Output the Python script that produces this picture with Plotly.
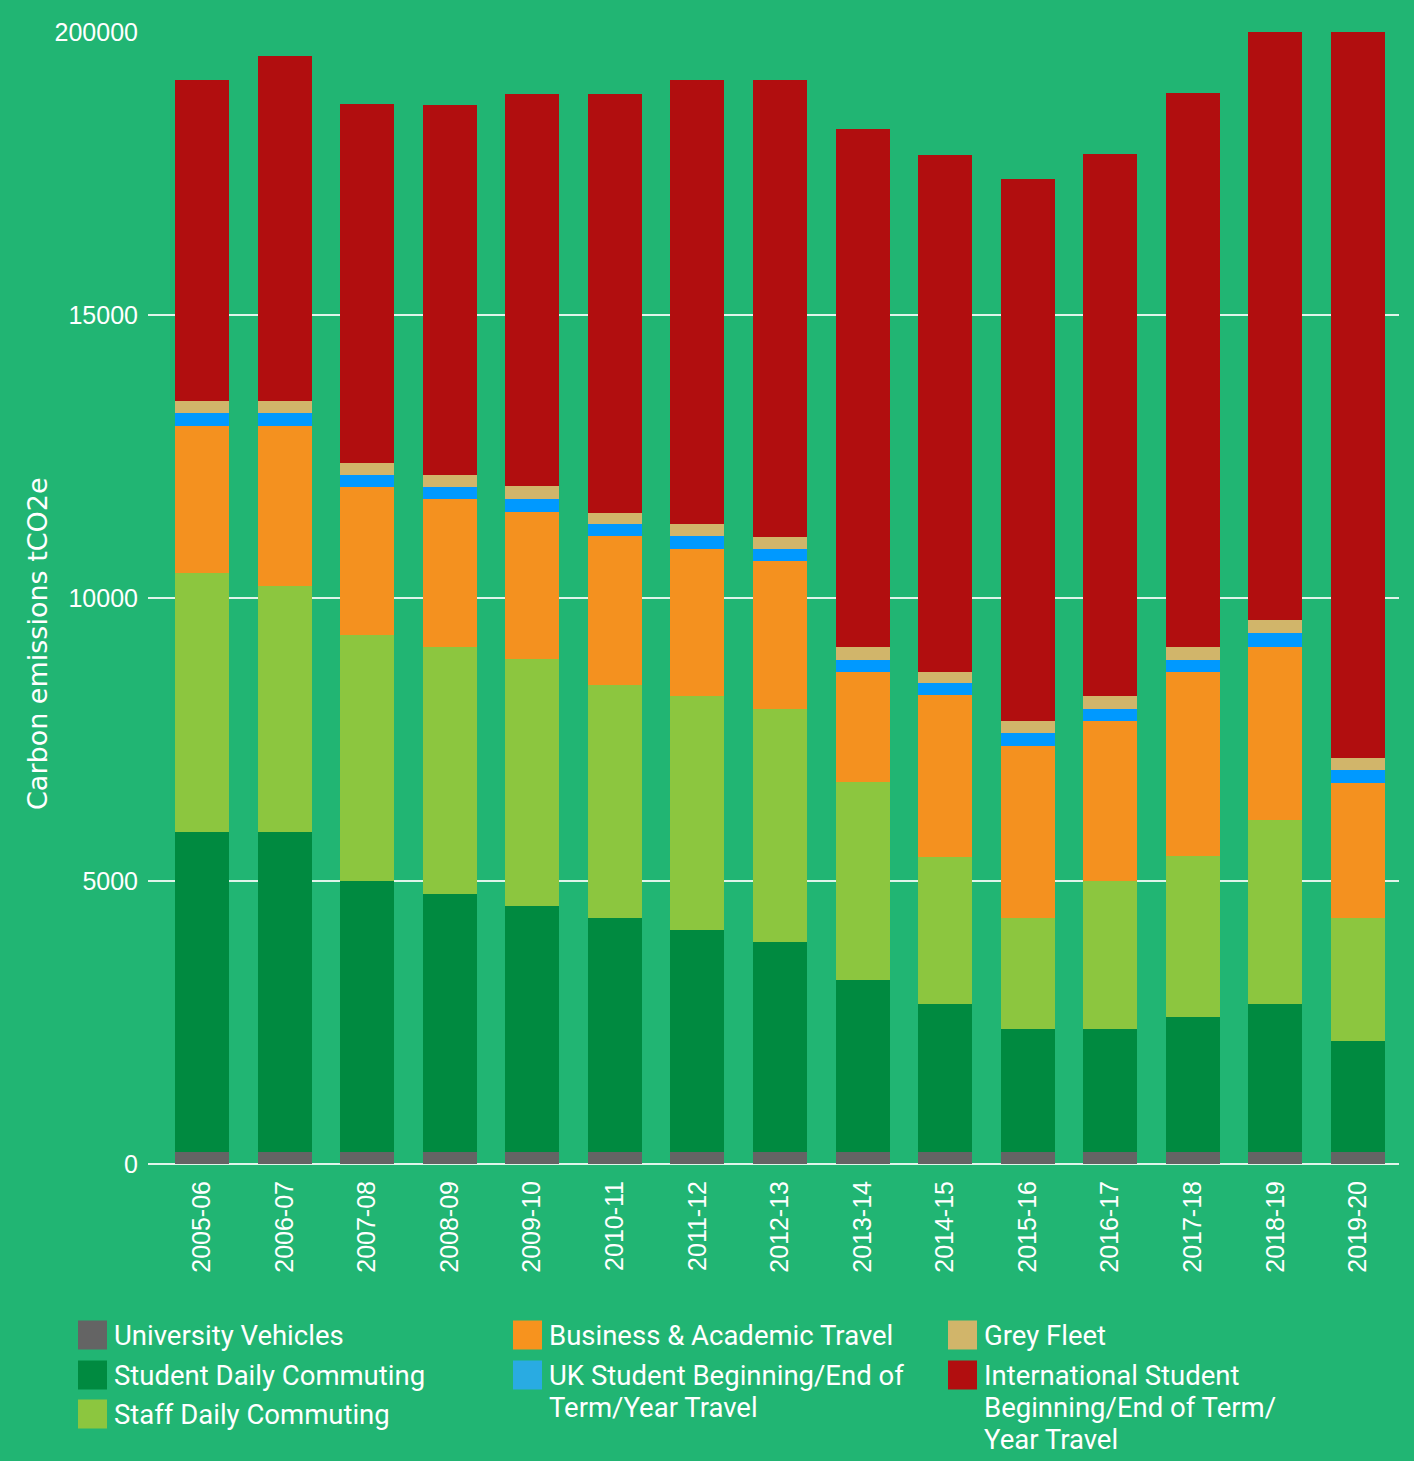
import plotly.graph_objects as go

# ---------------- data ----------------
years = ["2005-06", "2006-07", "2007-08", "2008-09", "2009-10", "2010-11", "2011-12",
         "2012-13", "2013-14", "2014-15", "2015-16", "2016-17", "2017-18", "2018-19", "2019-20"]

university_vehicles = [210, 210, 210, 210, 210, 210, 210, 210, 210, 210, 210, 210, 210, 210, 210]
student_commuting = [5650, 5650, 4790, 4560, 4350, 4130, 3920, 3710, 3040, 2620, 2170, 2170, 2390, 2620, 1960]
staff_commuting = [4580, 4350, 4350, 4360, 4360, 4130, 4130, 4120, 3500, 2600, 1960, 2620, 2850, 3250, 2170]
business_academic = [2600, 2830, 2620, 2620, 2600, 2620, 2600, 2620, 1940, 2850, 3040, 2830, 3250, 3060, 2390]
uk_student_travel = [230, 230, 210, 210, 230, 210, 230, 210, 210, 210, 230, 210, 210, 250, 230]
grey_fleet = [210, 210, 210, 210, 230, 210, 210, 210, 230, 210, 210, 230, 230, 230, 210]
international_travel = [5670, 6100, 6330, 6540, 6930, 7400, 7850, 8070, 9150, 9130, 9580, 9580, 9790, 10380, 12830]

y_tick_vals = [0, 5000, 10000, 15000, 20000]
y_tick_text = ["0", "5000", "10000", "15000", "200000"]

series_names = ["University Vehicles", "Student Daily Commuting", "Staff Daily Commuting",
                "Business & Academic Travel", "UK Student Beginning/End of Term/Year Travel",
                "Grey Fleet", "International Student Beginning/End of Term/Year Travel"]
series_values = [university_vehicles, student_commuting, staff_commuting, business_academic,
                 uk_student_travel, grey_fleet, international_travel]

# ---------------- styles ----------------
BG = "#21B573"
bar_colors = ["#646464", "#008A40", "#8CC63F", "#F4911F", "#0099FF", "#D1B56A", "#B10E0F"]
swatch_colors = ["#646464", "#008A40", "#8CC63F", "#F7931E", "#29ABE2", "#D1B56A", "#B10E0F"]

W, H = 1414, 1461
ML, MR, MT, MB = 148, 15, 32, 297
PW = W - ML - MR
PH = H - MT - MB


def px_x(px):
    return (px - ML) / PW


def px_y(py):
    return (H - MB - py) / PH


fig = go.Figure()
for name, vals, col in zip(series_names, series_values, bar_colors):
    fig.add_trace(go.Bar(x=years, y=vals, name=name, marker=dict(color=col, line=dict(width=0)),
                         showlegend=False))

grid_col = "rgba(235,248,240,0.95)"
fig.update_layout(
    width=W, height=H,
    barmode="stack",
    bargap=0.346,
    paper_bgcolor=BG, plot_bgcolor=BG,
    margin=dict(l=ML, r=MR, t=MT, b=MB, pad=0),
    font=dict(family="Liberation Sans, Arial, sans-serif", color="white", size=25),
    xaxis=dict(type="category", range=[-0.654, 14.497], tickangle=-90, showgrid=False, showline=False,
               ticks="outside", ticklen=6, tickcolor="rgba(0,0,0,0)",
               tickfont=dict(family="Liberation Sans, Arial, sans-serif", size=25, color="white")),
    yaxis=dict(range=[0, 20000], tickvals=y_tick_vals, ticktext=y_tick_text,
               showgrid=True, gridcolor=grid_col, gridwidth=1.5,
               zeroline=True, zerolinecolor=grid_col, zerolinewidth=2,
               ticks="outside", ticklen=4, tickcolor="rgba(0,0,0,0)",
               tickfont=dict(family="Liberation Sans, Arial, sans-serif", size=25, color="white")),
    showlegend=False,
)

annotations = []
shapes = []

# y-axis title
annotations.append(dict(text="Carbon emissions tCO2e", xref="paper", yref="paper",
                        x=px_x(37), y=px_y(644), textangle=-90, showarrow=False,
                        xanchor="center", yanchor="middle",
                        font=dict(family="DejaVu Sans, sans-serif", size=27, color="white")))

# custom legend (three columns)
legend_cols = [
    (78, [(0, ["University Vehicles"], 1335),
          (1, ["Student Daily Commuting"], 1375),
          (2, ["Staff Daily Commuting"], 1414)]),
    (513, [(3, ["Business & Academic Travel"], 1335),
           (4, ["UK Student Beginning/End of", "Term/Year Travel"], 1375)]),
    (948, [(5, ["Grey Fleet"], 1335),
           (6, ["International Student", "Beginning/End of Term/", "Year Travel"], 1375)]),
]
SW = 29
for x0, items in legend_cols:
    for idx, lines, yc in items:
        shapes.append(dict(type="rect", xref="paper", yref="paper",
                           x0=px_x(x0), x1=px_x(x0 + SW), y0=px_y(yc - SW / 2), y1=px_y(yc + SW / 2),
                           fillcolor=swatch_colors[idx], line=dict(width=0), layer="above"))
        for k, line in enumerate(lines):
            annotations.append(dict(text=line, xref="paper", yref="paper",
                                    x=px_x(x0 + SW + 5), y=px_y(yc + k * 32),
                                    xanchor="left", yanchor="middle", showarrow=False,
                                    font=dict(family="Roboto, sans-serif", size=27.5, color="white")))

fig.update_layout(annotations=annotations, shapes=shapes)

fig.write_html("out.html", config={"displayModeBar": False},
               post_script="document.body.style.margin='0';document.body.style.overflow='hidden';")
